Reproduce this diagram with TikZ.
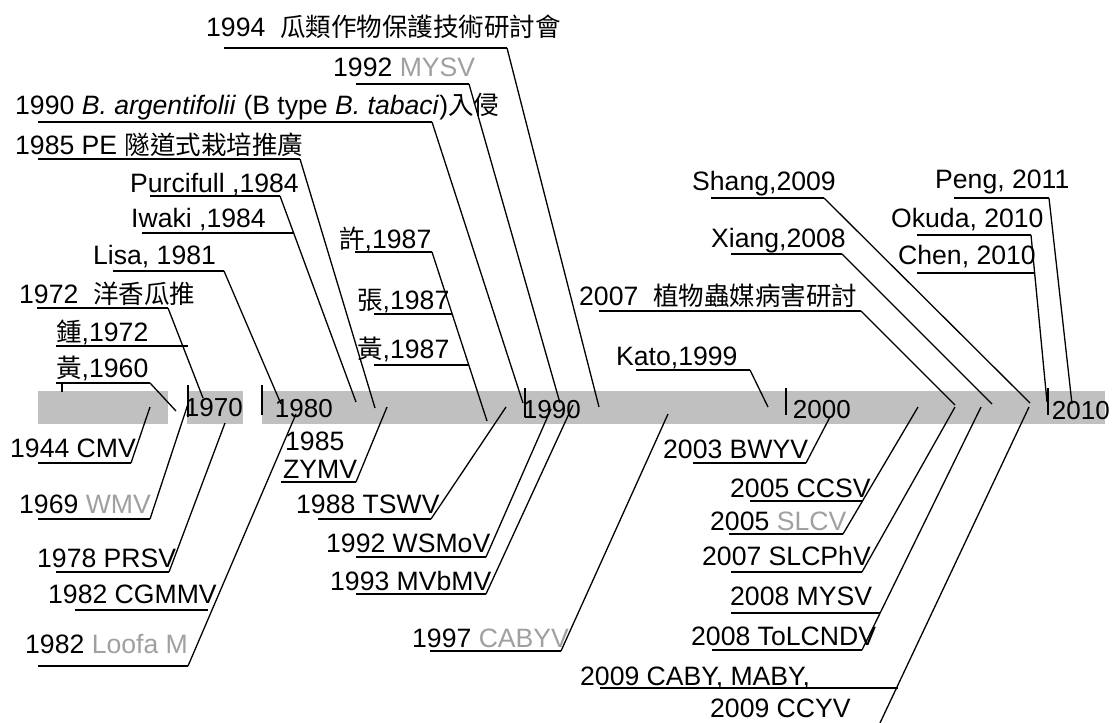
\documentclass[tikz,border=0pt]{standalone}
\usepackage{fontspec}
\setmainfont{Liberation Sans}
\newfontfamily\cjk[Scale=0.96]{Noto Sans CJK TC}
\definecolor{bargray}{HTML}{C0C0C0}
\definecolor{txtgray}{HTML}{A0A0A0}
\newcommand{\uln}[4]{\coordinate (#1s) at (#2,#4); \coordinate (#1e) at (#3,#4); \draw[uline] (#1s) -- (#1e);}
\newcommand{\ldr}[3]{\coordinate (#1t) at (#2,#3); \draw[lead] (#1e) -- (#1t);}
\begin{document}
\begin{tikzpicture}[x=1pt,y=-1pt,
  lbl/.style={font=\fontsize{26.6}{29}\selectfont, inner sep=0pt, anchor=base west},
  yr/.style={font=\fontsize{26}{29}\selectfont, inner sep=0pt, anchor=base east},
  uline/.style={line width=1.8pt},
  lead/.style={line width=1.3pt},
  tickln/.style={line width=1.5pt},
  barseg/.style={fill=bargray, draw=none}]
\useasboundingbox (0,0) rectangle (1112,723);
\fill[white] (0,0) rectangle (1112,723);
% bar
\fill[barseg] (38,391) rectangle (168,424);
\fill[barseg] (187,391) rectangle (243,424);
\fill[barseg] (262,391) rectangle (1105,424);
% ticks
\coordinate (k0a) at (62,384); \coordinate (k0b) at (62,392); \draw[tickln] (k0a) -- (k0b);
\coordinate (k1a) at (188,385); \coordinate (k1b) at (188,417); \draw[tickln] (k1a) -- (k1b);
\coordinate (k2a) at (262,385); \coordinate (k2b) at (262,415); \draw[tickln] (k2a) -- (k2b);
\coordinate (k3a) at (525,388); \coordinate (k3b) at (525,417); \draw[tickln] (k3a) -- (k3b);
\coordinate (k4a) at (786,388); \coordinate (k4b) at (786,415); \draw[tickln] (k4a) -- (k4b);
\coordinate (k5a) at (1048,388); \coordinate (k5b) at (1048,415); \draw[tickln] (k5a) -- (k5b);
% year labels
\node[yr] (y1970) at (243,416) {1970};
\node[yr] (y1980) at (333,417) {1980};
\node[yr] (y1990) at (581,418) {1990};
\node[yr] (y2000) at (851,418) {2000};
\node[yr] (y2010) at (1110,419) {2010};
% top-left labels
\node[lbl] (t1994) at (206,36) {1994\ \ {\cjk 瓜類作物保護技術研討會}};
\node[lbl] (t1992) at (333,76) {1992 \textcolor{txtgray}{MYSV}};
\node[lbl] (t1990) at (15,114) {1990 \textit{B. argentifolii} (B type \textit{B. tabaci}){\cjk 入侵}};
\node[lbl] (t1985) at (15,154) {1985 PE {\cjk 隧道式栽培推廣}};
\node[lbl] (tPurc) at (130,192) {Purcifull ,1984};
\node[lbl] (tIwak) at (131,227) {Iwaki ,1984};
\node[lbl] (tLisa) at (93,264) {Lisa, 1981};
\node[lbl] (t1972) at (19,303) {1972\ \ {\cjk 洋香瓜推}};
\node[lbl] (tZhon) at (56,341) {{\cjk 鍾},1972};
\node[lbl] (tHu60) at (56,377) {{\cjk 黃},1960};
\node[lbl] (tXu87) at (339,248) {{\cjk 許},1987};
\node[lbl] (tZh87) at (357,309) {{\cjk 張},1987};
\node[lbl] (tHu87) at (357,358) {{\cjk 黃},1987};
% top-right labels
\node[lbl] (tShang) at (692,190) {Shang,2009};
\node[lbl] (tXiang) at (711,247) {Xiang,2008};
\node[lbl] (t2007) at (579,305) {2007\ \ {\cjk 植物蟲媒病害研討}};
\node[lbl] (tKato) at (616,365) {Kato,1999};
\node[lbl] (tPeng) at (935,188) {Peng, 2011};
\node[lbl] (tOkuda) at (891,227) {Okuda, 2010};
\node[lbl] (tChen) at (898,264) {Chen, 2010};
% bottom labels
\node[lbl] (b1944) at (10,457) {1944 CMV};
\node[lbl] (b1969) at (19,513) {1969 \textcolor{txtgray}{WMV}};
\node[lbl] (b1978) at (37,567) {1978 PRSV};
\node[lbl] (b1982c) at (48,603) {1982 CGMMV};
\node[lbl] (b1982l) at (25,653) {1982 \textcolor{txtgray}{Loofa M}};
\node[lbl] (b1985a) at (285,450) {1985};
\node[lbl] (b1985b) at (283,478) {ZYMV};
\node[lbl] (b1988) at (296,513) {1988 TSWV};
\node[lbl] (b1992) at (326,552) {1992 WSMoV};
\node[lbl] (b1993) at (330,590) {1993 MVbMV};
\node[lbl] (b1997) at (412,647) {1997 \textcolor{txtgray}{CABYV}};
\node[lbl] (b2003) at (663,458) {2003 BWYV};
\node[lbl] (b2005c) at (730,497) {2005 CCSV};
\node[lbl] (b2005s) at (710,530) {2005 \textcolor{txtgray}{SLCV}};
\node[lbl] (b2007) at (702,565) {2007 SLCPhV};
\node[lbl] (b2008m) at (730,605) {2008 MYSV};
\node[lbl] (b2008t) at (691,645) {2008 ToLCNDV};
\node[lbl] (b2009a) at (580,685) {2009 CABY, MABY,};
\node[lbl] (b2009c) at (710,717) {2009 CCYV};
% underlines and leaders (top)
\uln{u1994}{224}{507}{48} \ldr{u1994}{599}{407}
\uln{u1992}{356}{469}{84} \ldr{u1992}{560}{403}
\uln{u1990}{38}{432}{122} \ldr{u1990}{523}{403}
\uln{u1985}{38}{300}{159} \ldr{u1985}{375}{408}
\uln{uPurc}{150}{280}{196} \ldr{uPurc}{356}{402}
\uln{uIwak}{142}{293}{233}
\uln{uLisa}{113}{224}{271} \ldr{uLisa}{281}{404}
\uln{u1972}{37}{168}{308} \ldr{u1972}{203}{398}
\uln{uZhon}{56}{188}{346}
\uln{uHu60}{56}{150}{383} \ldr{uHu60}{176}{411}
\uln{uXu87}{355}{432}{252} \ldr{uXu87}{487}{421}
\uln{uZh87}{374}{452}{314}
\uln{uHu87}{374}{469}{365}
\uln{uShang}{711}{824}{198} \ldr{uShang}{1030}{403}
\uln{uXiang}{731}{842}{254} \ldr{uXiang}{992}{404}
\uln{u2007}{599}{861}{311} \ldr{u2007}{955}{405}
\uln{uKato}{636}{750}{370} \ldr{uKato}{768}{407}
\uln{uPeng}{954}{1049}{198} \ldr{uPeng}{1072}{404}
\uln{uOkuda}{917}{1031}{235} \ldr{uOkuda}{1047}{402}
\uln{uChen}{917}{1034}{273}
% underlines and leaders (bottom)
\uln{v1944}{38}{131}{463} \ldr{v1944}{150}{407}
\uln{v1969}{38}{150}{519} \ldr{v1969}{188}{404}
\uln{v1978}{56}{169}{572} \ldr{v1978}{225}{423}
\uln{v1982c}{75}{208}{610}
\uln{v1982l}{38}{188}{666} \ldr{v1982l}{296}{414}
\uln{vZYMV}{281}{356}{482} \ldr{vZYMV}{387}{407}
\uln{v1988}{318}{431}{519} \ldr{v1988}{506}{407}
\uln{v1992}{356}{486}{557} \ldr{v1992}{551}{409}
\uln{v1993}{356}{486}{594} \ldr{v1993}{573}{405}
\uln{v1997}{430}{561}{651} \ldr{v1997}{668}{414}
\uln{v2003}{693}{806}{463} \ldr{v2003}{830}{417}
\uln{v2005c}{750}{863}{501}
\uln{v2005s}{729}{843}{534} \ldr{v2005s}{918}{407}
\uln{v2007}{731}{862}{572} \ldr{v2007}{955}{407}
\uln{v2008m}{731}{880}{613}
\uln{v2008t}{712}{862}{650} \ldr{v2008t}{981}{407}
\uln{v2009a}{600}{898}{688}
\coordinate (v2009ce) at (880,723); \ldr{v2009c}{1029}{407}
\end{tikzpicture}
\end{document}
